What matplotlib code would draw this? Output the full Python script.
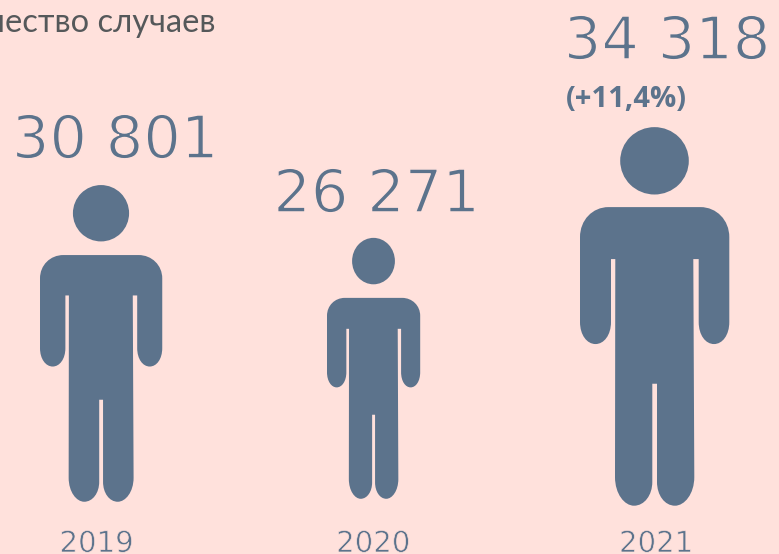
import matplotlib
matplotlib.use('Agg')
import matplotlib.pyplot as plt
import matplotlib.patheffects as pe
import numpy as np
from matplotlib.patches import PathPatch
from matplotlib.path import Path
from matplotlib.transforms import Affine2D

years = ['2019', '2020', '2021']
cases = [30801, 26271, 34318]
case_labels = ['30 801', '26 271', '34 318']
change_label = '(+11,4%)'
title = 'Количество случаев'

bg = '#FFE1DC'
blue = '#5C738C'
grey = '#55585A'

# pictogram layout, px
centers = [101, 373.5, 654.5]
feet = [502, 499, 506]
px_per_case = [0.01029, 0.00994, 0.01104]
widths = [122, 93, 149]
shoulders = [83.7, 87.1, 80]
label_x = [115, 376.5, 667]
label_y = [158, 212, 59]
year_x = [96.5, 373, 656]


def person(shoulder):
    # outline of one figure, drawn at 149 x 379 and centred on x=0
    M, L, C = Path.MOVETO, Path.LINETO, Path.CURVE4
    v = np.array([(-46, 80), (46, 80), (62, 80), (74.8, 93), (74.8, 110), (74.8, 195),
         (74.8, 208), (68, 217), (59.5, 217), (51, 217), (44.2, 208), (44.2, 195),
         (44.2, 132), (38.8, 132), (39.8, 350), (39.8, 367), (30, 378.7), (20.5, 378.7),
         (10, 378.7), (2.5, 368), (2.5, 355), (2.5, 256.7), (-2.2, 256.7), (-2.2, 355),
         (-2.2, 368), (-10, 378.7), (-20.5, 378.7), (-30, 378.7), (-39.5, 367), (-39.5, 350),
         (-39.2, 132), (-43.5, 132), (-43.5, 195), (-43.5, 208), (-50.5, 217), (-59, 217),
         (-67.5, 217), (-74.5, 208), (-74.5, 195), (-74.5, 110), (-74.5, 93), (-62, 80),
         (-46, 80), (-46, 80)], dtype=float)
    c = [M, L, C, C, C, L, C, C, C, C, C, C, L, L, L, C, C, C, C, C, C, L, L, L,
         C, C, C, C, C, C, L, L, L, C, C, C, C, C, C, L, C, C, C, Path.CLOSEPOLY]
    # shoulders sit a bit lower on the smaller figures
    top = v[:, 1] < 132
    v[top, 1] = 132 - (132 - v[top, 1]) * (132 - shoulder) / 52
    body = Path(v, c)
    head = Path.unit_circle().transformed(Affine2D().scale(34.3, 33.7).translate(0, 33.7))
    return Path.make_compound_path(head, body)


fig = plt.figure(figsize=(7.79, 5.54), dpi=100, facecolor=bg)
ax = fig.add_axes([0, 0, 1, 1])
ax.set_xlim(0, 779)
ax.set_ylim(554, 0)
ax.axis('off')

thin = [pe.Stroke(linewidth=1.1, foreground=bg)]
for i in range(len(years)):
    h = cases[i] * px_per_case[i]
    tr = Affine2D().scale(widths[i] / 149, h / 379).translate(centers[i], feet[i] - h)
    ax.add_patch(PathPatch(person(shoulders[i]).transformed(tr), fc=blue, ec='none'))
    ax.text(label_x[i], label_y[i], case_labels[i], color=blue, fontsize=42.5, ha='center', va='baseline',
            family='DejaVu Sans', path_effects=thin)
    ax.text(year_x[i], 552, years[i], color=blue, fontsize=21, ha='center', va='baseline',
            family='DejaVu Sans', path_effects=[pe.Stroke(linewidth=0.5, foreground=bg)])

ax.text(566, 107, change_label, color=blue, fontsize=21, fontweight='bold', ha='left', va='baseline',
        family='Open Sans')
ax.text(216, 32, title, color=grey, fontsize=23.5, ha='right', va='baseline', family='Lato')

fig.savefig('out.png', dpi=100, facecolor=bg)
